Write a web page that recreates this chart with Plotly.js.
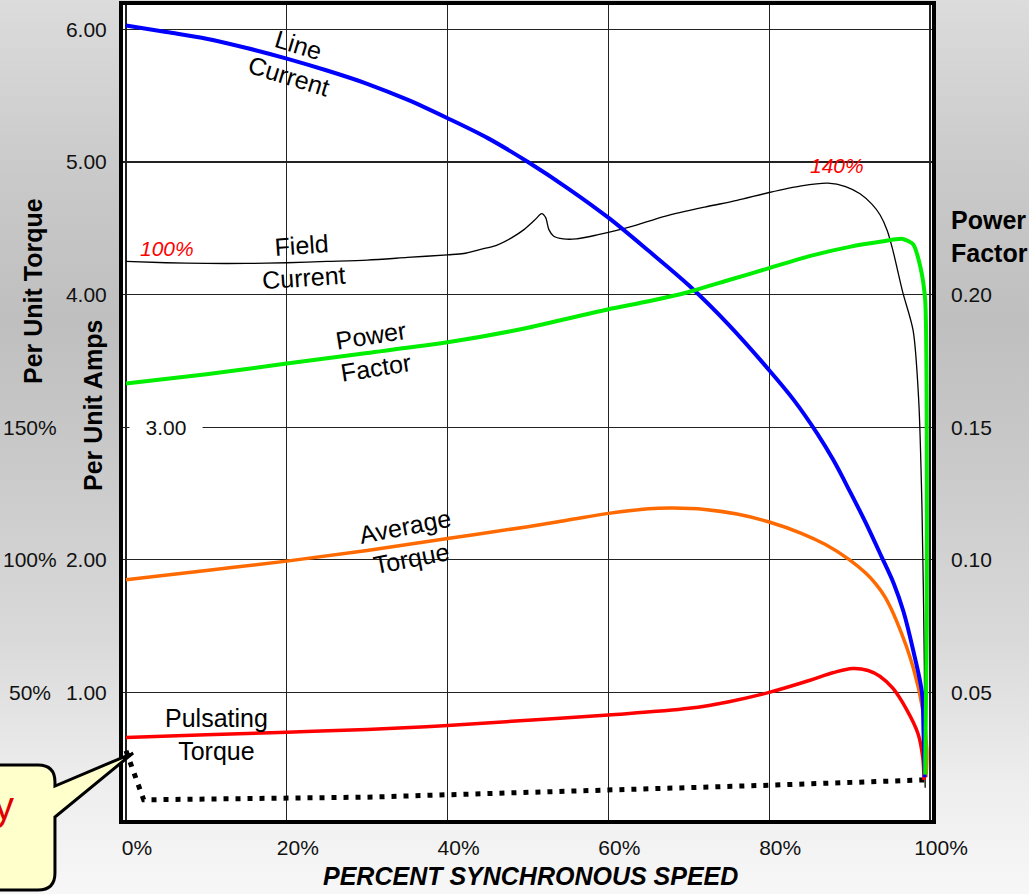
<!DOCTYPE html>
<html>
<head>
<meta charset="utf-8">
<script src="https://cdn.plot.ly/plotly-3.0.1.min.js"></script>
<style>
  html, body { margin: 0; padding: 0; }
  body {
    width: 1029px; height: 894px; overflow: hidden;
    background: linear-gradient(to bottom, #dcdcdc 0%, #c9c9c9 20%, #bfbfbf 36%, #c8c8c8 50%, #dadada 72%, #eeeeee 88%, #f7f7f7 100%);
  }
  #chart { width: 1029px; height: 894px; }
</style>
</head>
<body>
<div id="chart"></div>
<script>
// ---------- data (percent synchronous speed vs per-unit values) ----------
const lineCurrentX = [0, 5, 10, 15, 20, 25, 30, 35, 40, 45, 50, 55, 60, 65, 70, 75, 80, 83, 86, 88, 90, 92, 94, 95.5, 96.7, 97.9, 99.0, 99.2, 99.35];
const lineCurrentY = [6.03, 5.98, 5.93, 5.86, 5.78, 5.69, 5.59, 5.47, 5.33, 5.18, 5.00, 4.80, 4.58, 4.33, 4.07, 3.77, 3.43, 3.21, 2.95, 2.75, 2.52, 2.28, 2.02, 1.82, 1.61, 1.32, 1.00, 0.69, 0.36];

const fieldCurrentX = [0, 5, 10, 15, 20, 25, 30, 35, 40, 42, 44, 46, 48, 49.5, 50.8, 51.7, 52.2, 52.6, 53.2, 54.4, 56, 58.6, 62.7, 67, 72, 76, 80, 84, 87.3, 89.5, 91.3, 92.8, 93.8, 94.7, 95.4, 96.6, 97.9, 98.6, 99.0, 99.3, 99.4];
const fieldCurrentY = [4.25, 4.24, 4.235, 4.235, 4.24, 4.25, 4.26, 4.28, 4.30, 4.31, 4.34, 4.37, 4.43, 4.49, 4.56, 4.61, 4.58, 4.49, 4.44, 4.42, 4.42, 4.45, 4.51, 4.59, 4.66, 4.71, 4.77, 4.82, 4.84, 4.815, 4.76, 4.68, 4.60, 4.48, 4.33, 4.02, 3.73, 3.2, 2.4, 1.2, 0.28];

const powerFactorX = [0, 10, 20, 30, 40, 50, 60, 65, 70, 75, 80, 85, 90, 94, 96.6, 97.9, 98.8, 99.4, 99.6, 99.6, 99.4];
const powerFactorY = [0.1665, 0.170, 0.174, 0.178, 0.182, 0.1875, 0.1945, 0.1975, 0.201, 0.2055, 0.210, 0.2145, 0.218, 0.220, 0.221, 0.219, 0.2105, 0.198, 0.150, 0.075, 0.019];

const avgTorqueX = [0, 10, 20, 30, 40, 50, 55, 60, 65, 68, 72, 76, 80, 84, 87, 90, 92, 93.3, 94.4, 95.9, 97.9, 99.1, 99.6, 99.5];
const avgTorqueY = [1.85, 1.92, 1.99, 2.07, 2.16, 2.25, 2.30, 2.35, 2.385, 2.39, 2.38, 2.345, 2.285, 2.20, 2.115, 2.00, 1.90, 1.815, 1.72, 1.53, 1.19, 0.87, 0.57, 0.36];

const pulsTorqueX = [0, 10, 20, 30, 40, 50, 60, 70, 75, 80, 85, 88, 90.4, 92.3, 93.8, 95.4, 97.1, 98.5, 99.1, 99.25];
const pulsTorqueY = [0.66, 0.68, 0.70, 0.72, 0.75, 0.79, 0.83, 0.88, 0.93, 1.00, 1.09, 1.15, 1.18, 1.165, 1.12, 1.03, 0.87, 0.69, 0.51, 0.34];

const dottedX = [0, 2.2, 30, 60, 80, 99.3];
const dottedY = [0.56, 0.19, 0.21, 0.26, 0.30, 0.34];

const speedTicks = [0, 20, 40, 60, 80, 100];
const speedTickText = ['0%', '20%', '40%', '60%', '80%', '100%'];
const ampTicks = [1, 2, 3, 4, 5, 6];
const ampTickText = ['1.00', '2.00', '', '4.00', '5.00', '6.00'];
const pfTicks = [0.05, 0.10, 0.15, 0.20];
const pfTickText = ['0.05', '0.10', '0.15', '0.20'];
const torqueTickVals = [1, 2, 3];
const torqueTickText = ['50%', '100%', '150%'];

// ---------- helpers ----------
const W = 1029, H = 894;
const M = { l: 123, r: 97, t: 5, b: 74 };
const PW = W - M.l - M.r, PH = H - M.t - M.b;
const px = x => (x - M.l) / PW;
const py = y => (H - M.b - y) / PH;
const FONT = 'Liberation Sans, Arial, sans-serif';

const yRange = [0.0377, 6.184];

const traces = [
  { x: dottedX, y: dottedY, mode: 'lines', line: { color: '#000', width: 5, dash: '5px,7px' }, hoverinfo: 'skip' },
  { x: fieldCurrentX, y: fieldCurrentY, mode: 'lines', line: { color: '#000', width: 1.3, shape: 'spline', smoothing: 0.8 }, hoverinfo: 'skip' },
  { x: avgTorqueX, y: avgTorqueY, mode: 'lines', line: { color: '#ff6a00', width: 3.5, shape: 'spline', smoothing: 1 }, hoverinfo: 'skip' },
  { x: pulsTorqueX, y: pulsTorqueY, mode: 'lines', line: { color: '#ff0000', width: 3.5, shape: 'spline', smoothing: 1 }, hoverinfo: 'skip' },
  { x: powerFactorX, y: powerFactorY, yaxis: 'y2', mode: 'lines', line: { color: '#00ee00', width: 4, shape: 'spline', smoothing: 0.6 }, hoverinfo: 'skip' },
  { x: lineCurrentX, y: lineCurrentY, mode: 'lines', line: { color: '#0000ff', width: 4, shape: 'spline', smoothing: 0.9 }, hoverinfo: 'skip' }
];

const annotations = [];
const ann = o => annotations.push(Object.assign({ showarrow: false, xanchor: 'center', yanchor: 'middle' }, o));
// torque percentage labels on the far left
torqueTickVals.forEach((v, i) => ann({
  xref: 'paper', yref: 'y', x: px(30), y: v, text: torqueTickText[i],
  font: { family: FONT, size: 21, color: '#111' }
}));
// 3.00 label inside plot area
ann({ xref: 'x', yref: 'y', x: 5.0, y: 3, text: '3.00', bgcolor: '#ffffff',
  width: 64, borderpad: 4, font: { family: FONT, size: 21, color: '#111' } });
// axis titles
ann({ xref: 'paper', yref: 'paper', x: px(33), y: py(291), text: '<b>Per Unit Torque</b>', textangle: -90,
  font: { family: FONT, size: 25, color: '#000' } });
ann({ xref: 'paper', yref: 'paper', x: px(93), y: py(406), text: '<b>Per Unit Amps</b>', textangle: -90,
  font: { family: FONT, size: 25, color: '#000' } });
ann({ xref: 'paper', yref: 'paper', x: px(530), y: py(876), text: '<b><i>PERCENT SYNCHRONOUS SPEED</i></b>',
  font: { family: FONT, size: 25, color: '#000' } });
ann({ xref: 'paper', yref: 'paper', x: px(949), y: py(236), text: '<b>Power<br>Factor</b>', xanchor: 'left', align: 'left',
  font: { family: FONT, size: 25, color: '#000' } });
// curve labels
const curveLabel = (x, y, text, angle) => ann({ xref: 'x', yref: 'y', x, y, text, textangle: angle,
  font: { family: FONT, size: 25, color: '#000' } });
curveLabel(20.8, 5.765, 'Line<br>Current', 17);
curveLabel(22.0, 4.25, 'Field<br>Current', -4);
curveLabel(30.8, 3.57, 'Power<br>Factor', -9);
curveLabel(35.1, 2.127, 'Average<br>Torque', -11);
curveLabel(11.26, 0.682, 'Pulsating<br>Torque', 0);
// red percentage labels
ann({ xref: 'x', yref: 'y', x: 5.1, y: 4.35, text: '<i>100%</i>', font: { family: FONT, size: 21, color: '#ff0000' } });
ann({ xref: 'x', yref: 'y', x: 88.4, y: 4.97, text: '<i>140%</i>', font: { family: FONT, size: 21, color: '#ff0000' } });
// callout text (cut off at left edge, as in the original slide)
ann({ xref: 'paper', yref: 'paper', x: px(16), y: py(806), text: 'y', xanchor: 'right',
  font: { family: FONT, size: 40, color: '#e00000' } });

const P = (x, y) => px(x).toFixed(4) + ',' + py(y).toFixed(4);
const bubblePath = 'M' + P(-30, 765) + ' L' + P(38, 765) + ' Q' + P(55, 765) + ' ' + P(55, 782) +
  ' L' + P(55, 786) + ' L' + P(133, 753) + ' L' + P(55, 817) + ' L' + P(55, 873) +
  ' Q' + P(55, 890) + ' ' + P(38, 890) + ' L' + P(-30, 890) + ' Z';

const shapes = [
  { type: 'path', xref: 'paper', yref: 'paper', path: bubblePath, fillcolor: '#ffffcc', line: { color: '#000', width: 3 }, layer: 'above' }
];

const layout = {
  width: W, height: H,
  margin: M,
  paper_bgcolor: 'rgba(0,0,0,0)',
  plot_bgcolor: '#ffffff',
  showlegend: false,
  font: { family: FONT, size: 21, color: '#111' },
  xaxis: {
    range: [-0.373, 100.25], tickvals: speedTicks, ticktext: speedTickText,
    showgrid: true, gridcolor: '#222', gridwidth: 1.2, zeroline: false,
    showline: true, mirror: true, linecolor: '#000', linewidth: 4,
    ticks: '', ticklabelshift: 11, ticklabelstandoff: 6,
    tickfont: { family: FONT, size: 21, color: '#111' }, fixedrange: true
  },
  yaxis: {
    range: yRange, tickvals: ampTicks, ticktext: ampTickText,
    showgrid: true, gridcolor: '#222', gridwidth: 1.2, zeroline: false,
    showline: true, mirror: true, linecolor: '#000', linewidth: 4,
    ticks: '', ticklabelstandoff: 8,
    tickfont: { family: FONT, size: 21, color: '#111' }, fixedrange: true
  },
  yaxis2: {
    overlaying: 'y', side: 'right', range: [yRange[0] / 20, yRange[1] / 20],
    tickvals: pfTicks, ticktext: pfTickText, showgrid: false, zeroline: false, showline: false,
    ticks: '', ticklabelstandoff: 18,
    tickfont: { family: FONT, size: 21, color: '#111' }, fixedrange: true
  },
  annotations, shapes
};

Plotly.newPlot('chart', traces, layout, { displayModeBar: false, staticPlot: true });
</script>
</body>
</html>
